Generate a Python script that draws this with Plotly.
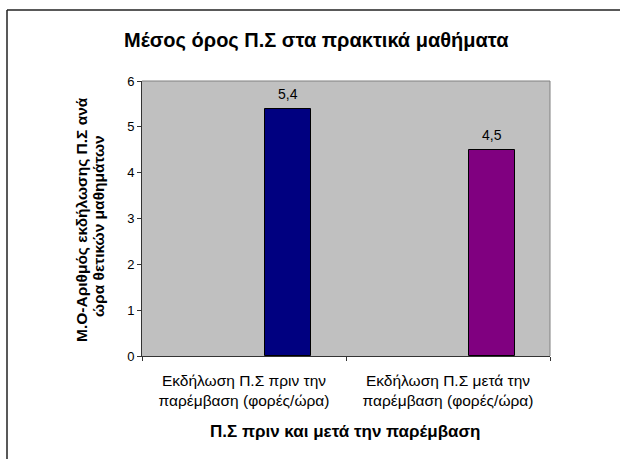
import plotly.graph_objects as go

categories = ["Εκδήλωση Π.Σ πριν την<br>παρέμβαση (φορές/ώρα)",
              "Εκδήλωση Π.Σ μετά την<br>παρέμβαση (φορές/ώρα)"]
values = [5.4, 4.5]
value_labels = ["5,4", "4,5"]
bar_colors = ["#000080", "#800080"]
y_ticks = [0, 1, 2, 3, 4, 5, 6]

title_text = "Μέσος όρος Π.Σ στα πρακτικά μαθήματα"
y_title_lines = ["Μ.Ο-Αριθμός εκδήλωσης Π.Σ ανά", "ώρα θετικών μαθημάτων"]
x_title = "Π.Σ πριν και μετά την παρέμβαση"

FONT = "Liberation Sans, Arial, sans-serif"
BAR_W, BAR_OFF = 0.225, 0.105

fig = go.Figure()
fig.add_trace(go.Bar(
    x=categories, y=values,
    marker=dict(color=bar_colors, line=dict(color="black", width=1)),
    width=BAR_W, offset=BAR_OFF,
    hoverinfo="skip",
))

L, R, T, B = 142, 70, 81, 103
W, H = 620, 459
pw, ph = W - L - R, H - T - B

def px(x):
    return (x - L) / pw

def py(y):
    return 1 - (y - T) / ph

fig.update_layout(
    width=W, height=H,
    margin=dict(l=L, r=R, t=T, b=B, pad=0),
    paper_bgcolor="white", plot_bgcolor="#C0C0C0",
    showlegend=False,
    font=dict(family=FONT, color="black"),
    bargap=0,
)
fig.update_xaxes(
    type="category", tickson="boundaries", ticks="outside", ticklen=4,
    tickcolor="#333", showline=True, linecolor="#333", linewidth=1,
    mirror=False, showgrid=False, ticklabelstandoff=10,
    tickfont=dict(family=FONT, size=15.5, color="black"),
)
fig.update_yaxes(
    range=[0, 6], tickvals=y_ticks, ticks="outside", ticklen=4,
    tickcolor="#333", showline=True, linecolor="#333", linewidth=1,
    showgrid=False, zeroline=False,
    tickfont=dict(family=FONT, size=13, color="black"),
)

# data labels above the bars
for i, (v, lab) in enumerate(zip(values, value_labels)):
    fig.add_annotation(text=lab, x=i + BAR_OFF + BAR_W / 2, y=v, xref="x", yref="y",
                       showarrow=False, yshift=15, xanchor="center", yanchor="middle",
                       font=dict(family=FONT, size=14, color="black"))

# gray border on top/right of plot area
fig.add_shape(type="line", xref="paper", yref="paper", x0=0, x1=1, y0=1, y1=1,
              line=dict(color="#808080", width=1))
fig.add_shape(type="line", xref="paper", yref="paper", x0=1, x1=1, y0=0, y1=1,
              line=dict(color="#808080", width=1))
# chart border (top and left)
fig.add_shape(type="line", xref="paper", yref="paper", x0=px(7), x1=px(625), y0=py(10), y1=py(10),
              line=dict(color="#222", width=1.5))
fig.add_shape(type="line", xref="paper", yref="paper", x0=px(7), x1=px(7), y0=py(10), y1=py(465),
              line=dict(color="#222", width=1.5))

fig.add_annotation(text=title_text, xref="paper", yref="paper",
                   x=px(316), y=py(40), showarrow=False, xanchor="center", yanchor="middle",
                   font=dict(family=FONT, size=20, color="black", weight="bold"))
for xc, yc, line in [(81, 220, y_title_lines[0]), (98, 226, y_title_lines[1])]:
    fig.add_annotation(text=line, xref="paper", yref="paper",
                       x=px(xc), y=py(yc), showarrow=False, textangle=-90,
                       xanchor="center", yanchor="middle",
                       font=dict(family=FONT, size=15.5, color="black", weight="bold"))
fig.add_annotation(text=x_title, xref="paper", yref="paper",
                   x=px(345), y=py(431), showarrow=False, xanchor="center", yanchor="middle",
                   font=dict(family=FONT, size=17, color="black", weight="bold"))

fig.write_html("out.html")
